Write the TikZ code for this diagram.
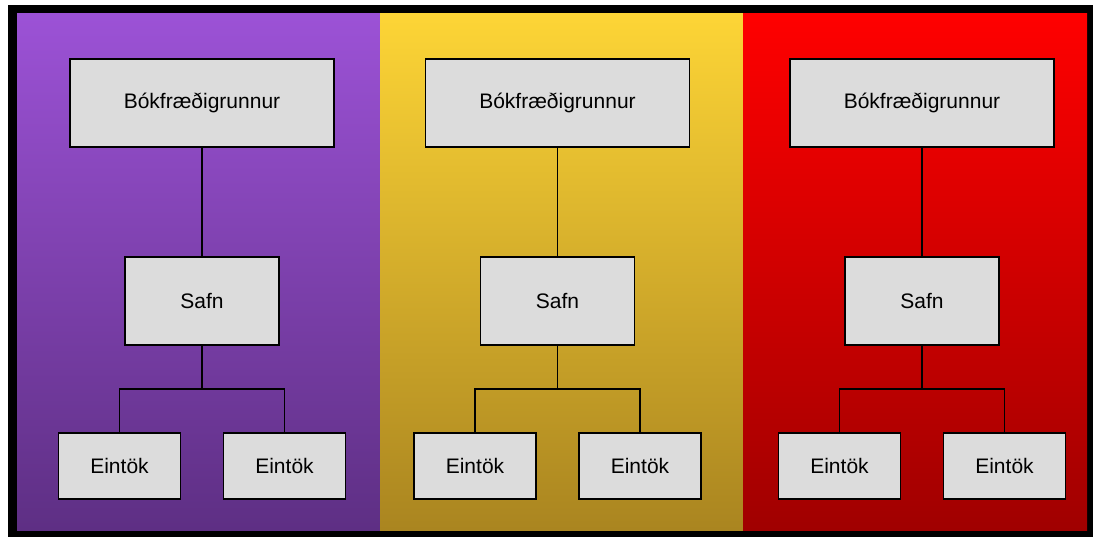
\documentclass[tikz,border=0pt]{standalone}
\usepackage{fontspec}
\setmainfont{Liberation Sans}

\definecolor{boxgray}{RGB}{220,220,220}
\definecolor{purpletop}{RGB}{156,82,214}
\definecolor{purplebot}{RGB}{94,47,132}
\definecolor{yellowtop}{RGB}{253,213,54}
\definecolor{yellowbot}{RGB}{170,133,32}
\definecolor{redtop}{RGB}{255,0,0}
\definecolor{redbot}{RGB}{160,0,0}

\begin{document}
\begin{tikzpicture}
  [
    x                       = 1pt,
    y                       = -1pt,
    grow                    = down,
    level 1/.style          = { level distance=198pt },
    level 2/.style          = { level distance=165pt, sibling distance=165pt },
    edge from parent/.style = {draw, line width=1.5pt},
    edge from parent path   = {(\tikzparentnode.south) -- ++(0pt,-43pt) -| (\tikzchildnode.north)},
    every node/.style       = {draw, fill=boxgray, line width=1.6pt, inner sep=0pt,
                               font=\fontsize{21}{25}\selectfont},
    dbbox/.style            = {minimum width=264pt, minimum height=88pt},
    safnbox/.style          = {minimum width=154pt, minimum height=88pt},
    eintbox/.style          = {minimum width=122pt, minimum height=66pt}
  ]
  \useasboundingbox (0,0) rectangle (1101,538);
  % frame and the three panels
  \fill[black] (8,5) rectangle (1093,537);
  \shade[top color=purpletop, bottom color=purplebot] (17,13) rectangle (380,530);
  \shade[top color=yellowtop, bottom color=yellowbot] (380,13) rectangle (743,530);
  \shade[top color=redtop, bottom color=redbot] (743,13) rectangle (1087,530);

  \node[dbbox] (bok1) at (202,103) { Bókfræðigrunnur }
  child {
    node[safnbox] (safn1) { Safn }
    child {
      node[eintbox] (eint1a) { Eintök }
    }
    child {
      node[eintbox] (eint1b) { Eintök }
    }
  };

  \node[dbbox] (bok2) at (557.5,103) { Bókfræðigrunnur }
  child {
    node[safnbox] (safn2) { Safn }
    child {
      node[eintbox] (eint2a) { Eintök }
    }
    child {
      node[eintbox] (eint2b) { Eintök }
    }
  };

  \node[dbbox] (bok3) at (922,103) { Bókfræðigrunnur }
  child {
    node[safnbox] (safn3) { Safn }
    child {
      node[eintbox] (eint3a) { Eintök }
    }
    child {
      node[eintbox] (eint3b) { Eintök }
    }
  };
\end{tikzpicture}
\end{document}
